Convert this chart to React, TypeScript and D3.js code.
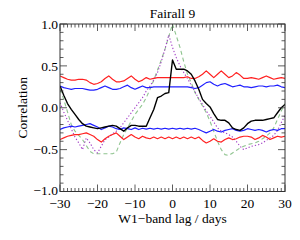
import * as d3 from 'd3';

// lag grid in days (-30 .. 30, 1-day steps)
const lags = d3.range(-30, 31, 1);

// cross-correlation, black solid
const ccf = [
  0.26, 0.15, 0.05, -0.02, -0.08, -0.14, -0.19, -0.22, -0.23, -0.24,
  -0.25, -0.24, -0.23, -0.22, -0.21, -0.22, -0.25, -0.28, -0.24, -0.21,
  -0.21, -0.22, -0.22, -0.22, -0.12, -0.02, 0.12, 0.14, 0.17, 0.18,
  0.57, 0.46, 0.46, 0.46, 0.44, 0.40, 0.32, 0.22, 0.10, 0.05,
  0.01, -0.07, -0.14, -0.15, -0.15, -0.18, -0.24, -0.26, -0.27, -0.24,
  -0.19, -0.16, -0.15, -0.15, -0.15, -0.14, -0.13, -0.12, -0.06, 0.0,
  0.04,
];

// auto-correlation, green dashed
const acfA = [
  0.22, 0.10, -0.05, -0.20, -0.28, -0.33, -0.38, -0.45, -0.52, -0.55,
  -0.55, -0.55, -0.55, -0.55, -0.55, -0.53, -0.42, -0.32, -0.24, -0.16,
  -0.08, -0.02, 0.04, 0.12, 0.22, 0.33, 0.45, 0.57, 0.70, 0.85,
  1.0, 0.86, 0.72, 0.55, 0.40, 0.30, 0.18, 0.10, 0.02, -0.06,
  -0.16, -0.28, -0.40, -0.50, -0.56, -0.57, -0.54, -0.51, -0.48, -0.46,
  -0.44, -0.43, -0.42, -0.40, -0.37, -0.34, -0.30, -0.24, -0.14, -0.04,
  0.05,
];

// auto-correlation, purple dotted
const acfB = [
  0.06, -0.05, -0.15, -0.25, -0.35, -0.42, -0.50, -0.36, -0.42, -0.50,
  -0.54, -0.46, -0.38, -0.35, -0.31, -0.28, -0.24, -0.18, -0.12, -0.06,
  0.0, 0.06, 0.12, 0.20, 0.26, 0.33, 0.42, 0.55, 0.70, 0.87,
  0.72, 0.60, 0.50, 0.42, 0.35, 0.27, 0.19, 0.11, 0.04, -0.04,
  -0.10, -0.17, -0.24, -0.28, -0.30, -0.32, -0.35, -0.40, -0.46, -0.50,
  -0.48, -0.46, -0.45, -0.44, -0.42, -0.39, -0.36, -0.33, -0.27, -0.18,
  -0.09,
];

// significance levels
const redUpper = [
  0.38, 0.36, 0.34, 0.33, 0.33, 0.34, 0.34, 0.33, 0.30, 0.28,
  0.29, 0.31, 0.35, 0.38, 0.34, 0.31, 0.31, 0.32, 0.35, 0.38,
  0.34, 0.31, 0.33, 0.36, 0.34, 0.35, 0.36, 0.36, 0.36, 0.36,
  0.36, 0.36, 0.36, 0.36, 0.37, 0.35, 0.35, 0.37, 0.40, 0.44,
  0.40, 0.36, 0.40, 0.44, 0.40, 0.36, 0.38, 0.42, 0.39, 0.35,
  0.35, 0.36, 0.35, 0.34, 0.36, 0.38, 0.36, 0.34, 0.35, 0.36,
  0.35,
];
const blueUpper = [
  0.26, 0.24, 0.23, 0.22, 0.23, 0.23, 0.23, 0.22, 0.21, 0.21,
  0.22, 0.24, 0.26, 0.24, 0.22, 0.22, 0.23, 0.25, 0.27, 0.24,
  0.22, 0.24, 0.26, 0.24, 0.24, 0.25, 0.25, 0.25, 0.25, 0.25,
  0.25, 0.25, 0.25, 0.25, 0.25, 0.24, 0.23, 0.24, 0.27, 0.30,
  0.31, 0.28, 0.26, 0.28, 0.29, 0.27, 0.25, 0.26, 0.27, 0.25,
  0.25, 0.24, 0.25, 0.26, 0.26, 0.25, 0.26, 0.26, 0.27, 0.25,
  0.24,
];
const redLower = [
  -0.38, -0.36, -0.34, -0.33, -0.32, -0.32, -0.31, -0.30, -0.32, -0.34,
  -0.38, -0.41, -0.37, -0.34, -0.32, -0.30, -0.34, -0.38, -0.35, -0.32,
  -0.35, -0.37, -0.34, -0.36, -0.37, -0.35, -0.37, -0.35, -0.37, -0.35,
  -0.37, -0.35, -0.37, -0.35, -0.37, -0.35, -0.37, -0.35, -0.39, -0.42,
  -0.40, -0.37, -0.40, -0.41, -0.38, -0.36, -0.38, -0.37, -0.35, -0.34,
  -0.34, -0.35, -0.38, -0.36, -0.33, -0.35, -0.38, -0.36, -0.34, -0.35,
  -0.34,
];
const blueLower = [
  -0.26, -0.24, -0.23, -0.22, -0.23, -0.22, -0.21, -0.20, -0.19, -0.21,
  -0.23, -0.26, -0.24, -0.22, -0.23, -0.25, -0.26, -0.24, -0.25, -0.26,
  -0.24, -0.26, -0.245, -0.255, -0.245, -0.255, -0.245, -0.255, -0.245, -0.255,
  -0.245, -0.255, -0.245, -0.255, -0.245, -0.255, -0.245, -0.26, -0.28, -0.30,
  -0.28, -0.26, -0.28, -0.29, -0.27, -0.26, -0.25, -0.27, -0.28, -0.27,
  -0.25, -0.26, -0.27, -0.26, -0.27, -0.29, -0.27, -0.26, -0.27, -0.25,
  -0.25,
];

const xMajor = [-30, -20, -10, 0, 10, 20, 30];
const yMajor = [1.0, 0.5, 0.0, -0.5, -1.0];

const W = 300, H = 240;
const m = { left: 60, right: 15, top: 24, bottom: 48.5 };
const FONT = "'Liberation Serif', 'Times New Roman', Times, serif";

const fmtLabel = (v: number, digits: number) =>
  (v < 0 ? '\u2212' : '') + Math.abs(v).toFixed(digits);

export default function App() {
  const x = d3.scaleLinear().domain([-30, 30]).range([m.left, W - m.right]);
  const y = d3.scaleLinear().domain([-1, 1]).range([H - m.bottom, m.top]);
  const [x0, x1] = x.range();
  const [yb, yt] = y.range();

  const line = (vals: number[]) =>
    d3.line<number>()
      .x((_, i) => x(lags[i]))
      .y(d => y(d))(vals) || '';

  const xMinor = d3.range(-30, 31, 1);
  const yMinor = d3.range(-10, 11, 1).map(v => v / 10);

  const series = [
    { vals: acfA, color: '#8fc48f', width: 1.1, dash: '4,3' },
    { vals: acfB, color: '#a23fc6', width: 1.1, dash: '1.3,2' },
    { vals: redUpper, color: '#ff2020', width: 1.2, dash: '' },
    { vals: redLower, color: '#ff2020', width: 1.2, dash: '' },
    { vals: blueUpper, color: '#2020ff', width: 1.2, dash: '' },
    { vals: blueLower, color: '#2020ff', width: 1.2, dash: '' },
    { vals: ccf, color: '#000000', width: 1.4, dash: '' },
  ];

  return (
    <svg width={W} height={H} style={{ position: 'absolute', left: 0, top: 0, fontFamily: FONT, fontSize: 13.5 }}>
      <rect width={W} height={H} fill="#fff" />
      <defs>
        <clipPath id="plotclip">
          <rect x={x0} y={yt} width={x1 - x0} height={yb - yt} />
        </clipPath>
      </defs>

      <g clipPath="url(#plotclip)">
        {series.map((s, i) => (
          <path key={i} d={line(s.vals)} fill="none" stroke={s.color}
            strokeWidth={s.width} strokeDasharray={s.dash || undefined}
            strokeLinejoin="round" />
        ))}
      </g>

      {/* ticks, inward on all four sides */}
      <g stroke="#333" strokeWidth={0.8}>
        {xMinor.map(v => {
          const len = v % 10 === 0 ? 7 : 3.5;
          return (
            <g key={'x' + v}>
              <line x1={x(v)} x2={x(v)} y1={yb} y2={yb - len} />
              <line x1={x(v)} x2={x(v)} y1={yt} y2={yt + len} />
            </g>
          );
        })}
        {yMinor.map(v => {
          const major = Math.abs((v * 10) % 5) < 1e-6;
          const len = major ? 7 : 3.5;
          return (
            <g key={'y' + v}>
              <line x1={x0} x2={x0 + len} y1={y(v)} y2={y(v)} />
              <line x1={x1} x2={x1 - len} y1={y(v)} y2={y(v)} />
            </g>
          );
        })}
      </g>
      <rect x={x0} y={yt} width={x1 - x0} height={yb - yt} fill="none"
        stroke="#333" strokeWidth={1} />

      {/* tick labels */}
      {yMajor.map(v => (
        <text key={'yl' + v} x={x0 - 2} y={y(v) - (v === -1 ? 1.5 : 0)} dy="0.35em" textAnchor="end">
          {fmtLabel(v, 1)}
        </text>
      ))}
      {xMajor.map(v => (
        <text key={'xl' + v} x={x(v)} y={yb + 16} textAnchor="middle">
          {fmtLabel(v, 0)}
        </text>
      ))}

      <text x={(x0 + x1) / 2} y={17.5} textAnchor="middle">Fairall 9</text>
      <text x={(x0 + x1) / 2} y={223} textAnchor="middle">W1{'\u2212'}band lag / days</text>
      <text transform={`translate(27,${(yt + yb) / 2}) rotate(-90)`} textAnchor="middle">
        Correlation
      </text>
    </svg>
  );
}
